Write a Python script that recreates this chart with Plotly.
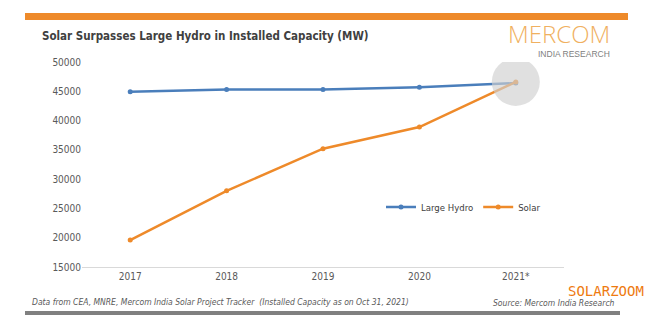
import plotly.graph_objects as go

years = ["2017", "2018", "2019", "2020", "2021*"]
large_hydro = [44900, 45300, 45300, 45700, 46400]
solar = [19600, 28000, 35200, 38900, 46600]
y_ticks = [15000, 20000, 25000, 30000, 35000, 40000, 45000, 50000]

BLUE = "#4a7ebb"
ORANGE = "#ee8a2a"
FONT = "DejaVu Sans Condensed"

fig = go.Figure()
fig.add_trace(go.Scatter(x=years, y=large_hydro, mode="lines+markers", name="Large Hydro",
                         line=dict(color=BLUE, width=2.5), marker=dict(size=5, color=BLUE)))
fig.add_trace(go.Scatter(x=years, y=solar, mode="lines+markers", name="Solar",
                         line=dict(color=ORANGE, width=2.5), marker=dict(size=5, color=ORANGE)))
# highlight circle at the 2021 crossing
fig.add_trace(go.Scatter(x=[years[-1]], y=[solar[-1]], mode="markers",
                         marker=dict(size=48, color="#d0d0d0", opacity=0.65),
                         showlegend=False, hoverinfo="skip"))


def px(x):
    return (x - 82) / 482


def py(y):
    return (267 - y) / 205


fig.update_layout(
    width=654, height=331,
    margin=dict(l=82, r=90, t=62, b=64),
    plot_bgcolor="white", paper_bgcolor="white",
    font=dict(family=FONT, size=10, color="#595959"),
    legend=dict(orientation="h", x=px(381), y=py(207), xanchor="left", yanchor="middle",
                font=dict(size=9.5, color="#404040"), bgcolor="rgba(0,0,0,0)",
                itemwidth=30, tracegroupgap=0),
    xaxis=dict(type="category", categoryorder="array", categoryarray=years,
               range=[-0.5, 4.5], showgrid=False, showline=True,
               linecolor="#d9d9d9", linewidth=1, ticks="", tickfont=dict(size=10)),
    yaxis=dict(range=[15000, 50000], tickvals=y_ticks, tickformat="d", showgrid=False,
               zeroline=False, showline=False, ticks="", tickfont=dict(size=10)),
    shapes=[
        dict(type="rect", xref="paper", yref="paper", x0=px(25), x1=px(628),
             y0=py(20), y1=py(13), fillcolor=ORANGE, line=dict(width=0)),
        dict(type="rect", xref="paper", yref="paper", x0=px(25), x1=px(620),
             y0=py(315), y1=py(311), fillcolor="#808080", line=dict(width=0)),
    ],
)

fig.add_annotation(text="<b>Solar Surpasses Large Hydro in Installed Capacity (MW)</b>",
                   xref="paper", yref="paper", x=px(40), y=py(36), xanchor="left", yanchor="middle",
                   showarrow=False, font=dict(family=FONT, size=11.5, color="#404040"))
fig.add_annotation(text="MERCOM", xref="paper", yref="paper", x=px(612), y=py(33),
                   xanchor="right", yanchor="middle", showarrow=False,
                   font=dict(family="Open Sans", size=24, color="#f0b060", weight=300))
fig.add_annotation(text="INDIA RESEARCH", xref="paper", yref="paper", x=px(612), y=py(54),
                   xanchor="right", yanchor="middle", showarrow=False,
                   font=dict(family="Liberation Sans", size=8.5, color="#808080"))
fig.add_annotation(text="<i>Data from CEA, MNRE, Mercom India Solar Project Tracker  (Installed Capacity as on Oct 31, 2021)</i>",
                   xref="paper", yref="paper", x=px(30), y=py(302), xanchor="left", yanchor="middle",
                   showarrow=False, font=dict(family=FONT, size=8.5, color="#595959"))
fig.add_annotation(text="<i>Source: Mercom India Research</i>",
                   xref="paper", yref="paper", x=px(617), y=py(303), xanchor="right", yanchor="middle",
                   showarrow=False, font=dict(family=FONT, size=8.5, color="#595959"))
fig.add_annotation(text="SOLARZOOM", xref="paper", yref="paper", x=px(646), y=py(291),
                   xanchor="right", yanchor="middle", showarrow=False,
                   font=dict(family="DejaVu Sans Mono", size=14, color="#ee7a10"))

fig.write_html("out.html")
